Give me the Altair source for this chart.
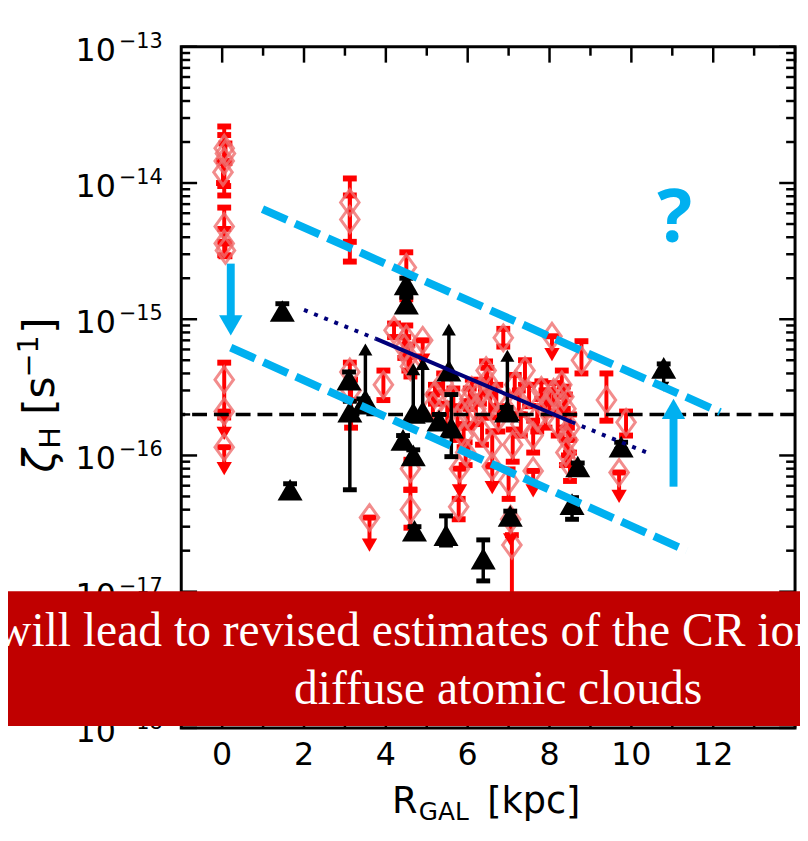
import altair as alt
import pandas as pd

# ---------------- values ----------------
# red measurements with error bars: R_GAL [kpc], zeta_H [s^-1], lower, upper
red_x = [0.05, 0.05, 0.02, 0.08, 0.05, 0.05, 0.08, 0.05,
         3.12, 3.12, 3.12, 3.15, 3.94,
         4.50, 4.20, 4.50, 4.55, 4.60, 4.60, 5.20, 5.15, 5.78, 5.65, 5.75, 5.90,
         6.20, 6.10, 6.48, 6.60, 6.87, 7.00, 7.10, 7.08, 7.40, 7.25, 7.60, 7.90, 7.80,
         8.30, 8.40, 8.45, 8.50, 8.20, 8.78, 9.39, 9.87, 6.70, 6.00, 6.35, 8.00,
         5.40, 5.50, 6.05, 6.30, 6.55, 6.75, 7.15, 7.50, 7.70, 8.10, 8.35, 8.50,
         8.40, 5.95, 6.45, 7.30, 4.45, 4.60]
red_v = [1.8e-14, 1.45e-14, 1.2e-14, 1.65e-14, 4.8e-15, 3.6e-15, 3.2e-15, 3.6e-16,
         7.2e-15, 5.4e-15, 4.1e-16, 3.0e-16, 3.3e-16,
         2.4e-15, 8.3e-16, 7.2e-16, 5.3e-16, 8.0e-17, 4.0e-17, 2.8e-16, 2.3e-16, 4.2e-17, 2.6e-16, 1.8e-16, 1.4e-16,
         2.2e-16, 3.0e-16, 3.5e-16, 1.2e-16, 7.3e-16, 6.5e-17, 1.2e-16, 2.2e-17, 4.2e-16, 2.5e-16, 1.4e-16, 2.2e-16, 3.0e-16,
         3.3e-16, 2.2e-16, 1.3e-16, 8.5e-17, 1.7e-16, 5.0e-16, 2.55e-16, 1.75e-16, 2.7e-16, 2.0e-16, 1.5e-16, 2.5e-16,
         3.4e-16, 2.0e-16, 2.6e-16, 2.9e-16, 2.3e-16, 1.9e-16, 3.3e-16, 2.8e-16, 1.9e-16, 2.9e-16, 2.7e-16, 1.6e-16,
         1.05e-16, 1.05e-16, 4.2e-16, 1.7e-16, 6.2e-16, 4.5e-16]
red_lo = [9.5e-15, 8.1e-15, 1.0e-14, 1.4e-14, 3.7e-15, 2.95e-15, 2.9e-15, 1.9e-16,
          3.7e-15, 2.65e-15, 2.55e-16, 1.6e-16, 2.55e-16,
          1.4e-15, 7.4e-16, 5.5e-16, 4.2e-16, 5.6e-17, 2.95e-17, 2.4e-16, 1.9e-16, 3.4e-17, 2.2e-16, 1.3e-16, 1.15e-16,
          1.7e-16, 2.5e-16, 2.9e-16, 8.5e-17, 6.3e-16, 4.8e-17, 9.0e-17, 5.0e-18, 3.3e-16, 2.0e-16, 1.05e-16, 1.6e-16, 2.6e-16,
          2.7e-16, 1.6e-16, 1.0e-16, 6.5e-17, 1.4e-16, 4.0e-16, 1.8e-16, 1.4e-16, 2.2e-16, 1.6e-16, 1.2e-16, 2.0e-16,
          2.9e-16, 1.6e-16, 2.2e-16, 2.4e-16, 1.9e-16, 1.5e-16, 2.8e-16, 2.3e-16, 1.5e-16, 2.4e-16, 2.2e-16, 1.3e-16,
          8.5e-17, 8.5e-17, 3.6e-16, 1.4e-16, 5.2e-16, 3.8e-16]
red_hi = [2.6e-14, 2.25e-14, 1.45e-14, 1.95e-14, 6.6e-15, 4.6e-15, 3.6e-15, 4.8e-16,
          1.08e-14, 8.1e-15, 4.8e-16, 3.6e-16, 4.2e-16,
          3.1e-15, 9.3e-16, 9.0e-16, 6.5e-16, 9.3e-17, 5.6e-17, 3.3e-16, 2.8e-16, 4.8e-17, 3.1e-16, 2.3e-16, 1.7e-16,
          2.7e-16, 3.6e-16, 4.4e-16, 1.5e-16, 8.5e-16, 7.9e-17, 1.55e-16, 2.6e-17, 5.0e-16, 3.0e-16, 1.8e-16, 3.0e-16, 3.5e-16,
          4.2e-16, 2.8e-16, 1.6e-16, 1.05e-16, 2.1e-16, 6.9e-16, 4.0e-16, 2.1e-16, 3.3e-16, 2.5e-16, 1.9e-16, 3.0e-16,
          4.0e-16, 2.4e-16, 3.1e-16, 3.5e-16, 2.8e-16, 2.3e-16, 3.9e-16, 3.3e-16, 2.3e-16, 3.4e-16, 3.2e-16, 2.0e-16,
          1.3e-16, 1.25e-16, 4.9e-16, 2.0e-16, 7.4e-16, 5.3e-16]

# red upper limits: value and arrow tip
rul_x = [0.05, 0.05, 3.60, 4.90, 5.80, 6.60, 7.05, 7.60, 8.06, 9.70]
rul_v = [2.1e-16, 1.15e-16, 3.5e-17, 7.0e-16, 8.0e-17, 8.3e-17, 3.4e-17, 7.7e-17, 7.5e-16, 7.5e-17]
rul_tip = [1.45e-16, 8.0e-17, 2.2e-17, 5.0e-16, 5.5e-17, 5.8e-17, 2.4e-17, 5.5e-17, 5.5e-16, 5.0e-17]

# black measurements with error bars
blk_x = [1.47, 1.66, 3.10, 3.12, 3.45, 4.50, 4.50, 4.42, 4.67, 4.70,
         5.47, 5.60, 5.30, 6.38, 7.04, 6.95, 8.55, 8.69, 9.75, 10.79]
blk_v = [1.15e-15, 5.6e-17, 3.6e-16, 2.1e-16, 2.4e-16, 1.8e-15, 1.3e-15, 1.3e-16, 1.0e-16, 2.8e-17,
         2.6e-17, 1.6e-16, 1.8e-16, 1.75e-17, 3.6e-17, 2.1e-16, 4.4e-17, 8.3e-17, 1.16e-16, 4.4e-16]
blk_lo = [1.05e-15, 5.2e-17, 3.2e-16, 5.6e-17, 2.2e-16, 1.6e-15, 1.2e-15, 1.2e-16, 9.3e-17, 2.6e-17,
          2.2e-17, 9.8e-17, 1.6e-16, 1.2e-17, 3.3e-17, 2.0e-16, 3.4e-17, 7.8e-17, 1.1e-16, 4.1e-16]
blk_hi = [1.3e-15, 6.2e-17, 4.1e-16, 2.5e-16, 2.6e-16, 2.0e-15, 1.45e-15, 1.4e-16, 1.1e-16, 3.0e-17,
          3.6e-17, 2.8e-16, 2.0e-16, 2.4e-17, 3.9e-17, 2.25e-16, 4.9e-17, 8.8e-17, 1.25e-16, 4.7e-16]

# black lower limits (arrow up) and upper limit (arrow down)
bll_x = [3.50, 4.67, 4.90, 5.54, 6.97]
bll_v = [2.55e-16, 2.05e-16, 2.1e-16, 4.2e-16, 2.15e-16]
bll_tip = [6.0e-16, 4.3e-16, 4.7e-16, 8.4e-16, 5.4e-16]
bul_x = [10.79]
bul_v = [4.4e-16]
bul_tip = [3.2e-16]

# reference level
ref_level = [2.0e-16]

# navy fit line
fit_solid_x = [3.75, 8.54]
fit_solid_v = [7.2e-16, 1.76e-16]
fit_dot_seg = ["a", "a", "b", "b"]
fit_dot_x = [2.0, 3.75, 8.54, 10.38]
fit_dot_v = [1.17e-15, 7.2e-16, 1.76e-16, 1.05e-16]

# cyan band lines
band_name = ["upper", "upper", "lower", "lower"]
band_x = [0.985, 12.17, 0.21, 11.35]
band_v = [6.43e-15, 2.08e-16, 6.18e-16, 2.0e-17]

# cyan arrows
carr_x = [0.21, 11.03]
carr_from = [2.56e-15, 5.9e-17]
carr_to = [1.0e-15, 1.95e-16]
carr_head = [9.0e-16, 2.2e-16]
carr_shape = ["triangle-down", "triangle-up"]

# question mark
q_x = [11.06]
q_v = [3.7e-15]
q_text = ["?"]

# axes
x_tick_major = [0, 2, 4, 6, 8, 10, 12, 14]
x_tick_minor = [1, 3, 5, 7, 9, 11, 13]
x_tick_labels = ["0", "2", "4", "6", "8", "10", "12"]
y_tick_major = [1e-13, 1e-14, 1e-15, 1e-16, 1e-17, 1e-18]
y_tick_exps = ["\u221213", "\u221214", "\u221215", "\u221216", "\u221217", "\u221218"]
y_minor_mant = [2, 3, 4, 5, 6, 7, 8, 9]
y_minor_dec = [1e-18, 1e-17, 1e-16, 1e-15, 1e-14]

banner_lines = ["will lead to revised estimates of the CR ionization rate in",
                "diffuse atomic clouds"]

# ---------------- build ----------------
RED = "#ff0000"
LRED = "#f07070"
CYAN = "#00b0f0"
NAVY = "#00007a"
FONT = "DejaVu Sans"

XS = alt.Scale(domain=[-1, 14], nice=False, zero=False)
YS = alt.Scale(type="log", domain=[1e-18, 1e-13], nice=False)


def X(f="x"):
    return alt.X(f"{f}:Q", scale=XS, axis=None)


def Y(f="v"):
    return alt.Y(f"{f}:Q", scale=YS, axis=None)


red = pd.DataFrame({"x": red_x, "v": red_v, "lo": red_lo, "hi": red_hi})
rul = pd.DataFrame({"x": rul_x, "v": rul_v, "tip": rul_tip})
blk = pd.DataFrame({"x": blk_x, "v": blk_v, "lo": blk_lo, "hi": blk_hi})
bll = pd.DataFrame({"x": bll_x, "v": bll_v, "tip": bll_tip})
bul = pd.DataFrame({"x": bul_x, "v": bul_v, "tip": bul_tip})
one = pd.DataFrame({"t": [banner_lines[0]]})
two = pd.DataFrame({"t": [banner_lines[1]]})

THIN_DIAMOND = "M0,-1L0.72,0L0,1L-0.72,0Z"

layers = []

# plot frame
layers.append(alt.Chart(one).mark_rect(fill="white", stroke="black", strokeWidth=3)
              .encode(x=alt.value(0), x2=alt.value(620), y=alt.value(0), y2=alt.value(688)))

# red series
layers.append(alt.Chart(red).mark_rule(color=RED, strokeWidth=4).encode(x=X(), y=Y("lo"), y2="hi"))
for f in ["lo", "hi"]:
    layers.append(alt.Chart(red).mark_tick(orient="horizontal", color=RED, thickness=6, size=14, opacity=1)
                  .encode(x=X(), y=Y(f)))
layers.append(alt.Chart(red).mark_point(shape=THIN_DIAMOND, filled=False, stroke=LRED, strokeWidth=3,
                                        opacity=0.8, size=676).encode(x=X(), y=Y()))
# red upper limits
layers.append(alt.Chart(rul).mark_rule(color=RED, strokeWidth=4).encode(x=X(), y=Y("v"), y2="tip"))
layers.append(alt.Chart(rul).mark_tick(orient="horizontal", color=RED, thickness=6, size=14, opacity=1)
              .encode(x=X(), y=Y("v")))
layers.append(alt.Chart(rul).mark_point(shape="triangle-down", filled=True, color=RED, opacity=1, size=240)
              .encode(x=X(), y=Y("tip")))
layers.append(alt.Chart(rul).mark_point(shape=THIN_DIAMOND, filled=False, stroke=LRED, strokeWidth=3,
                                        opacity=0.8, size=676).encode(x=X(), y=Y()))

# black series
layers.append(alt.Chart(blk).mark_rule(color="black", strokeWidth=3.5).encode(x=X(), y=Y("lo"), y2="hi"))
for f in ["lo", "hi"]:
    layers.append(alt.Chart(blk).mark_tick(orient="horizontal", color="black", thickness=5, size=14, opacity=1)
                  .encode(x=X(), y=Y(f)))
layers.append(alt.Chart(blk).mark_point(shape="triangle-up", filled=True, color="black", opacity=1, size=640)
              .encode(x=X(), y=Y()))
# black lower limits
layers.append(alt.Chart(bll).mark_rule(color="black", strokeWidth=3.5).encode(x=X(), y=Y("v"), y2="tip"))
layers.append(alt.Chart(bll).mark_point(shape="triangle-up", filled=True, color="black", opacity=1, size=200)
              .encode(x=X(), y=Y("tip")))
layers.append(alt.Chart(bll).mark_point(shape="triangle-up", filled=True, color="black", opacity=1, size=640)
              .encode(x=X(), y=Y()))
# black upper limit
layers.append(alt.Chart(bul).mark_rule(color="black", strokeWidth=3.5).encode(x=X(), y=Y("v"), y2="tip"))
layers.append(alt.Chart(bul).mark_point(shape="triangle-down", filled=True, color="black", opacity=1, size=130)
              .encode(x=X(), y=Y("tip")))

# reference horizontal dashed line
layers.append(alt.Chart(pd.DataFrame({"v": ref_level})).mark_rule(color="black", strokeWidth=3.5,
                                                                    strokeDash=[15, 7]).encode(y=Y()))
# navy fit
layers.append(alt.Chart(pd.DataFrame({"x": fit_solid_x, "v": fit_solid_v}))
              .mark_line(color=NAVY, strokeWidth=4).encode(x=X(), y=Y()))
layers.append(alt.Chart(pd.DataFrame({"s": fit_dot_seg, "x": fit_dot_x, "v": fit_dot_v}))
              .mark_line(color=NAVY, strokeWidth=4, strokeDash=[4, 7]).encode(x=X(), y=Y(), detail="s:N"))
# cyan band
layers.append(alt.Chart(pd.DataFrame({"b": band_name, "x": band_x, "v": band_v}))
              .mark_line(color=CYAN, strokeWidth=8, strokeDash=[27, 9], strokeCap="butt")
              .encode(x=X(), y=Y(), detail="b:N"))
# cyan arrows
carr = pd.DataFrame({"x": carr_x, "a": carr_from, "b": carr_to, "h": carr_head, "shape": carr_shape})
layers.append(alt.Chart(carr).mark_rule(color=CYAN, strokeWidth=8).encode(x=X(), y=Y("a"), y2="b"))
layers.append(alt.Chart(carr).mark_point(filled=True, color=CYAN, opacity=1, size=560)
              .encode(x=X(), y=Y("h"), shape=alt.Shape("shape:N", scale=None)))
layers.append(alt.Chart(pd.DataFrame({"x": q_x, "v": q_v, "t": q_text}))
              .mark_text(font="Open Sans", fontWeight="bold", fontSize=74, color=CYAN, align="center",
                         baseline="alphabetic").encode(x=X(), y=Y(), text="t:N"))

# ticks (inward, all four sides)
xmaj = pd.DataFrame({"x": x_tick_major})
xmin = pd.DataFrame({"x": x_tick_minor})
for df, ln in [(xmaj, 16), (xmin, 9)]:
    layers.append(alt.Chart(df).mark_rule(color="black", strokeWidth=2.5)
                  .encode(x=X(), y=alt.value(688), y2=alt.value(688 - ln)))
    layers.append(alt.Chart(df).mark_rule(color="black", strokeWidth=2.5)
                  .encode(x=X(), y=alt.value(0), y2=alt.value(ln)))
ymaj = pd.DataFrame({"v": y_tick_major, "e": y_tick_exps})
ymin = pd.DataFrame({"v": [m * d for d in y_minor_dec for m in y_minor_mant]})
for df, ln in [(ymaj, 16), (ymin, 9)]:
    layers.append(alt.Chart(df).mark_rule(color="black", strokeWidth=2.5)
                  .encode(y=Y(), x=alt.value(0), x2=alt.value(ln)))
    layers.append(alt.Chart(df).mark_rule(color="black", strokeWidth=2.5)
                  .encode(y=Y(), x=alt.value(620), x2=alt.value(620 - ln)))

# tick labels
layers.append(alt.Chart(ymaj).mark_text(font=FONT, fontSize=32, align="right", baseline="alphabetic", dy=14,
                                        color="black")
              .encode(y=Y(), x=alt.value(-66), text=alt.value("10")))
layers.append(alt.Chart(ymaj).mark_text(font=FONT, fontSize=21, align="left", baseline="alphabetic", dy=1,
                                        color="black")
              .encode(y=Y(), x=alt.value(-63), text="e:N"))
layers.append(alt.Chart(pd.DataFrame({"x": x_tick_major[:7], "t": x_tick_labels}))
              .mark_text(font=FONT, fontSize=32, align="center", baseline="alphabetic", color="black")
              .encode(x=X(), y=alt.value(725), text="t:N"))


def label(txt, x, y, size, angle=0, style="normal"):
    return alt.Chart(pd.DataFrame({"t": [txt]})).mark_text(
        font=FONT, fontSize=size, align="left", baseline="alphabetic", angle=angle, fontStyle=style,
        color="black").encode(x=alt.value(x), y=alt.value(y), text="t:N")


# axis titles
layers += [label("R", 213, 774, 37), label("GAL", 240, 781, 25), label("[kpc]", 309, 774, 37)]
layers += [label("\u03b6", -129, 430, 43, 270, "italic"), label("H", -122, 406, 29, 270),
           label("[s", -129, 372, 43, 270), label("\u22121", -145, 334, 29, 270),
           label("]", -129, 290, 43, 270)]

# banner
layers.append(alt.Chart(one).mark_rect(color="#c00000", clip=False)
              .encode(x=alt.value(-185), x2=alt.value(630), y=alt.value(550), y2=alt.value(686)))
layers.append(alt.Chart(one).mark_text(font="Liberation Serif", fontSize=48, align="left", baseline="alphabetic",
                                       color="white").encode(x=alt.value(-186), y=alt.value(605), text="t:N"))
layers.append(alt.Chart(two).mark_text(font="Liberation Serif", fontSize=48, align="center", baseline="alphabetic",
                                       color="white").encode(x=alt.value(320), y=alt.value(664), text="t:N"))

chart = alt.layer(*layers).properties(
    width=620, height=688,
    padding={"left": 175, "top": 35, "right": 5, "bottom": 105},
    autosize=alt.AutoSizeParams(type="none"),
).configure_view(stroke=None).configure(background="white")

chart.save("out.html", embed_options={"renderer": "svg", "actions": False})
